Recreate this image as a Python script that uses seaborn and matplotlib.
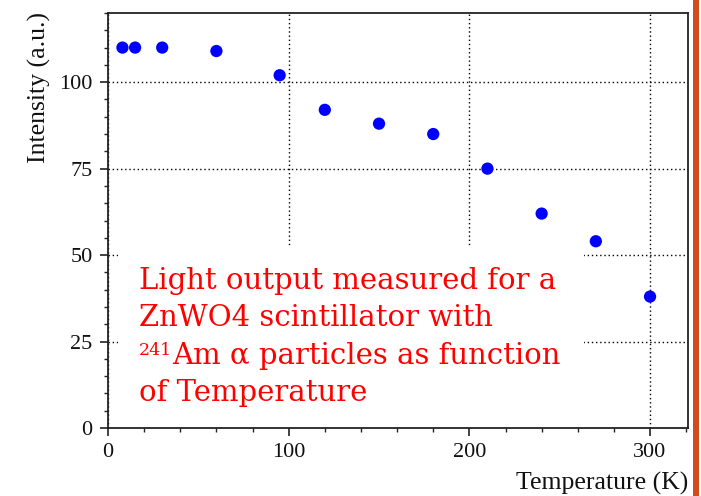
import matplotlib
matplotlib.use("Agg")
import matplotlib.pyplot as plt
from matplotlib.patches import Rectangle
from matplotlib.ticker import MultipleLocator
import seaborn as sns
import pandas as pd

# Light output of ZnWO4 vs temperature
temperature_K = [8, 15, 30, 60, 95, 120, 150, 180, 210, 240, 270, 300]
intensity_au = [110, 110, 110, 109, 102, 92, 88, 85, 75, 62, 54, 38]

x_ticks = [0, 100, 200, 300]
y_ticks = [0, 25, 50, 75, 100]

df = pd.DataFrame({"Temperature": temperature_K, "Intensity": intensity_au})

sns.set_theme(style="ticks")
plt.rcParams["font.family"] = ["Liberation Serif", "DejaVu Serif"]

fig = plt.figure(figsize=(7.01, 4.96), dpi=100)
W, H = 701, 496
ax = fig.add_axes([108 / W, 1 - 428 / H, (688 - 108) / W, (428 - 13) / H])

sns.scatterplot(data=df, x="Temperature", y="Intensity", ax=ax,
                color="#0000ff", s=78, edgecolor="none", zorder=3)

ax.set_xlim(0, 321)
ax.set_ylim(0, 120)
ax.set_xticks(x_ticks)
ax.set_yticks(y_ticks)
ax.xaxis.set_minor_locator(MultipleLocator(20))
ax.yaxis.set_minor_locator(MultipleLocator(5))

ax.grid(True, which="major", color="black", linestyle=(0, (1, 2)), linewidth=1.0)
ax.set_axisbelow(True)

for side in ["left", "bottom", "top", "right"]:
    ax.spines[side].set_color("#222222")
    ax.spines[side].set_linewidth(1.3)

ax.tick_params(axis="both", which="major", direction="out", length=6, width=1.2,
               color="#222222", labelsize=16, pad=5, labelcolor="#111111")
ax.tick_params(axis="both", which="minor", direction="out", length=3, width=1.0,
               color="#222222")
ax.tick_params(top=False, right=False, which="both")

ax.set_xlabel("Temperature (K)", fontsize=18.5, color="#111111")
ax.set_ylabel("Intensity (a.u.)", fontsize=18.5, color="#111111")
ax.xaxis.set_label_coords(1.0, -0.105)
ax.xaxis.label.set_horizontalalignment("right")
ax.yaxis.set_label_coords(-0.099, 1.003)
ax.yaxis.label.set_horizontalalignment("right")

# white panel behind the annotation
ax.add_patch(Rectangle((5.5, 0), 258, 52.7, facecolor="white", edgecolor="none",
                       zorder=1.5))

note_font = dict(family=["DejaVu Serif"], color="#ff0000",
                 va="baseline", ha="left", zorder=4)
ax.text(17, 40.3, "Light output measured for a", fontsize=21, **note_font)
ax.text(17, 29.4, "ZnWO4 scintillator with", fontsize=21, **note_font)
ax.text(17, 21.1, "241", fontsize=12.5, **note_font)
ax.text(35.4, 18.5, "Am α particles as function", fontsize=21, **note_font)
ax.text(17, 7.7, "of Temperature", fontsize=21, **note_font)

# orange accent bar on the right edge
fig.patches.append(Rectangle((693 / W, 0), 6 / W, 1, transform=fig.transFigure,
                             facecolor="#d14b1b", edgecolor="none"))

fig.savefig("out.png", dpi=100, facecolor="white")
